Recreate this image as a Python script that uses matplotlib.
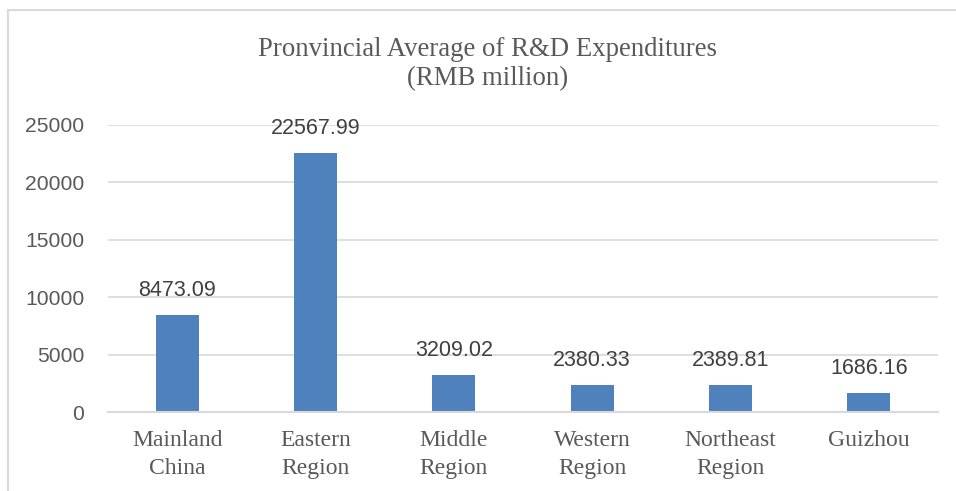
import matplotlib
matplotlib.use("Agg")

import matplotlib.pyplot as plt
from matplotlib.patches import Rectangle

regions = ["Mainland\nChina", "Eastern\nRegion", "Middle\nRegion",
           "Western\nRegion", "Northeast\nRegion", "Guizhou"]
spending = [8473.09, 22567.99, 3209.02, 2380.33, 2389.81, 1686.16]
y_ticks = [0, 5000, 10000, 15000, 20000, 25000]

bar_color = "#4F81BD"
text_gray = "#595959"
line_gray = "#D9D9D9"

fig = plt.figure(figsize=(9.56, 4.91), dpi=100)
ax = fig.add_axes([108 / 956, 79 / 491, 830 / 956, 287 / 491])

x = range(len(regions))
bars = ax.bar(x, spending, width=0.31, color=bar_color, zorder=3)

for rect, val in zip(bars, spending):
    ax.annotate(f"{val:.2f}", (rect.get_x() + rect.get_width() / 2, val),
                xytext=(0, 10), textcoords="offset points",
                ha="center", va="bottom", fontsize=15.5,
                family="Liberation Sans", color="#404040")

ax.set_xlim(-0.5, len(regions) - 0.5)
ax.set_ylim(0, 25000)
ax.set_yticks(y_ticks)
ax.set_yticklabels([str(t) for t in y_ticks], family="Liberation Sans",
                   fontsize=15.2, color=text_gray)
ax.set_xticks(list(x))
ax.set_xticklabels(regions, family="Liberation Serif", fontsize=17,
                   color=text_gray, linespacing=1.45)
ax.tick_params(axis="y", length=0, pad=17)
ax.tick_params(axis="x", length=0, pad=13)

ax.grid(axis="y", color=line_gray, linewidth=1.2, zorder=0)
for side in ["top", "right", "left"]:
    ax.spines[side].set_visible(False)
ax.spines["bottom"].set_color(line_gray)
ax.spines["bottom"].set_linewidth(1.5)
ax.spines["bottom"].set_zorder(4)

fig.text(488 / 956, 1 - 64 / 491,
         "Pronvincial Average of R&D Expenditures\n(RMB million)",
         ha="center", va="center", family="Liberation Serif",
         fontsize=19.3, color=text_gray, linespacing=1.22)

# chart border, open to the right and bottom
fig.patches.append(Rectangle((8 / 956, -0.1), 1.0, 1.1 - 10 / 491,
                             transform=fig.transFigure, fill=False,
                             edgecolor=line_gray, linewidth=1.5))

fig.savefig("out.png", dpi=100)
